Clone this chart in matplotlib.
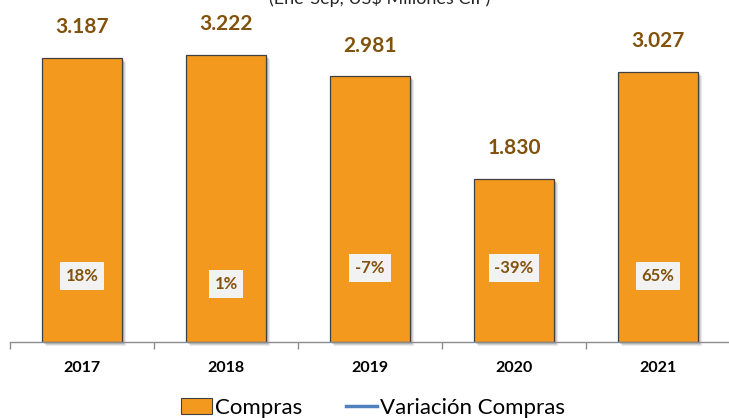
import matplotlib
matplotlib.use("Agg")
import matplotlib.pyplot as plt
import matplotlib.transforms as mtransforms
from matplotlib.patches import Patch
from matplotlib.lines import Line2D

years = ["2017", "2018", "2019", "2020", "2021"]
compras = [3187, 3222, 2981, 1830, 3027]
compras_labels = ["3.187", "3.222", "2.981", "1.830", "3.027"]
variacion = [18, 1, -7, -39, 65]
variacion_labels = ["18%", "1%", "-7%", "-39%", "65%"]
subtitle = "(Ene-Sep, US$ Millones CIF)"

# layout only: vertical placement of the % labels (data units of the bar axis)
pct_label_pos = [740, 650, 830, 830, 740]

plt.rcParams['font.family'] = ['Lato', 'DejaVu Sans']

W, H = 729, 418
fig = plt.figure(figsize=(W / 100, H / 100), dpi=100)
ax = fig.add_axes([10 / W, (H - 342) / H, 720 / W, 332 / H])

x = list(range(len(years)))
bw = 0.556
bar_color = "#F39A1E"
lab_color = "#82520C"

# soft shadow
for dx, a in [(4, 0.12), (3, 0.15), (2, 0.2)]:
    tr = mtransforms.offset_copy(ax.transData, fig=fig, x=dx, y=-dx, units='dots')
    ax.bar(x, compras, width=bw, color="#555555", alpha=a, transform=tr,
           zorder=1, linewidth=0, clip_on=False)

ax.bar(x, compras, width=bw, color=bar_color, edgecolor="#404040",
       linewidth=0.9, zorder=2)

for xi, v, lab in zip(x, compras, compras_labels):
    ax.annotate(lab, (xi, v), xytext=(0, 15), textcoords='offset points',
                ha='center', va='bottom', fontsize=15, fontweight='bold',
                color=lab_color, zorder=5)

for xi, yp, lab in zip(x, pct_label_pos, variacion_labels):
    ax.text(xi, yp, lab, ha='center', va='center', fontsize=12,
            fontweight='bold', color=lab_color, zorder=5,
            bbox=dict(boxstyle='square,pad=0.35', facecolor='#F2F2F2',
                      edgecolor='none'))

ax.set_xlim(-0.5, len(years) - 0.5)
ax.set_ylim(0, 3726)
for s in ['top', 'right', 'left']:
    ax.spines[s].set_visible(False)
ax.spines['bottom'].set_color('#8C8C8C')
ax.spines['bottom'].set_linewidth(1.0)
ax.set_yticks([])
ax.set_xticks([i - 0.5 for i in range(len(years) + 1)], minor=False)
ax.set_xticklabels([])
ax.tick_params(axis='x', which='major', length=5, color='#8C8C8C', width=1.0)
ax.set_xticks(x, minor=True)
ax.set_xticklabels(years, minor=True, fontsize=11.5, fontweight='bold')
ax.tick_params(axis='x', which='minor', length=0, pad=14)

fig.text(380 / W, 1 - 4 / H, subtitle, ha='center', va='baseline',
         fontsize=13, color='#262626')

handles = [Patch(facecolor=bar_color, edgecolor='#404040', linewidth=0.8),
           Line2D([0], [0], color='#4F81BD', linewidth=2.5)]
fig.legend(handles, ['Compras', 'Variación Compras'], loc='center',
           bbox_to_anchor=(373 / W, 1 - 408 / H), ncol=2, frameon=False,
           fontsize=16, handlelength=1.4, handletextpad=0.12,
           columnspacing=2.0, handleheight=0.75)

fig.savefig("out.png", dpi=100)
